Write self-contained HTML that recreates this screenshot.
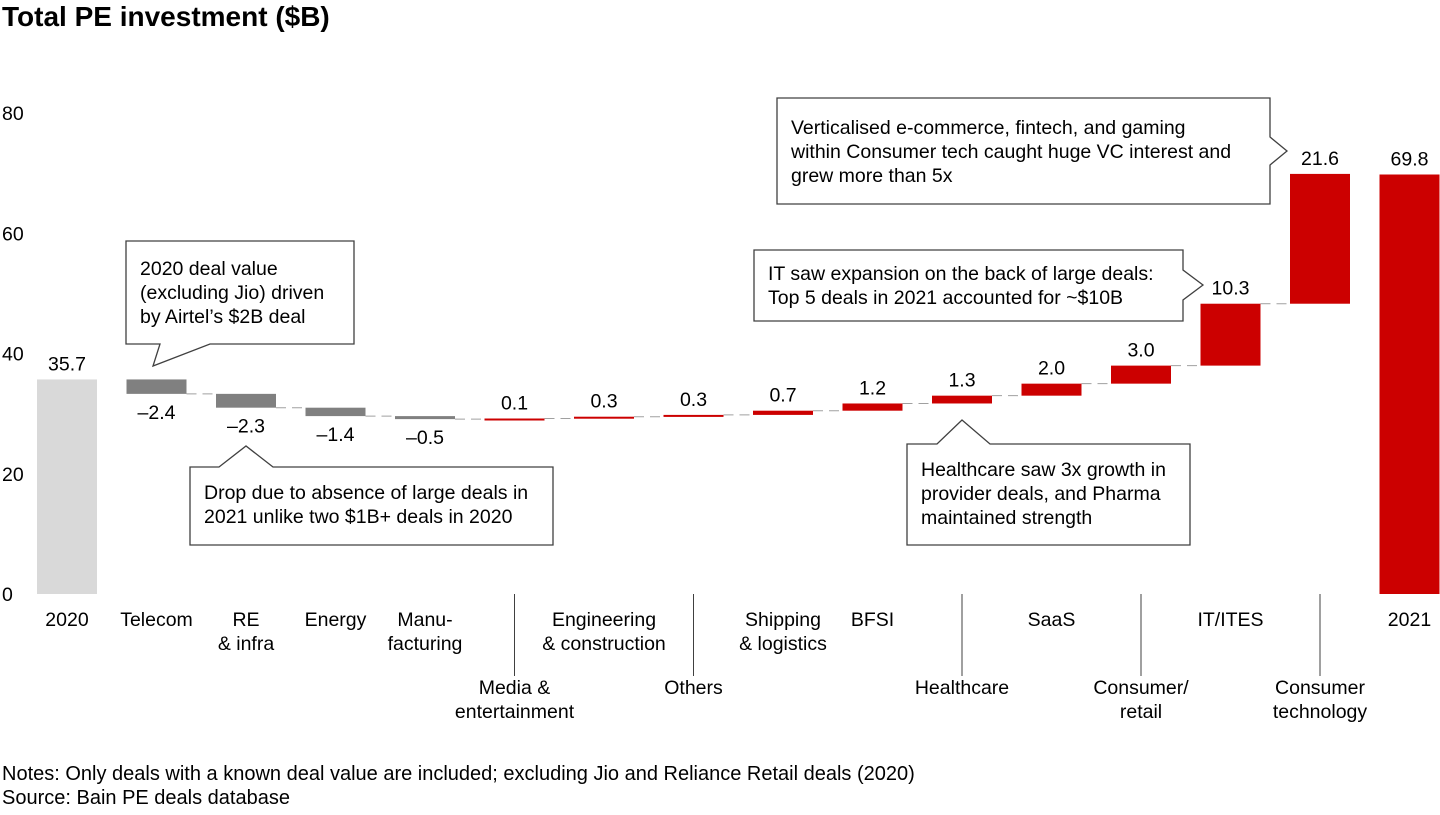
<!DOCTYPE html>
<html><head><meta charset="utf-8"><style>
body{margin:0;background:#fff;}
svg text{font-family:"Liberation Sans",Arial,sans-serif;fill:#000;}
</style></head><body>
<svg id="chart" width="1440" height="810" viewBox="0 0 1440 810" xmlns="http://www.w3.org/2000/svg">
<text x="2" y="26" font-size="28" font-weight="bold">Total PE investment ($B)</text>
<g id="yaxis"></g>
<g id="bars"></g>
<g id="xaxis"></g>
<g>
<path d="M126 241 H354 V344 H210 L153 366 L160 344 H126 Z" fill="#fff" stroke="#404040" stroke-width="1.3"/>
<text x="140" y="275" font-size="19.5">2020 deal value</text>
<text x="140" y="299" font-size="19.5">(excluding Jio) driven</text>
<text x="140" y="323" font-size="19.5">by Airtel’s $2B deal</text>
</g>
<g>
<path d="M190 467 H219 L246 446 L273 467 H553 V545 H190 Z" fill="#fff" stroke="#404040" stroke-width="1.3"/>
<text x="204" y="499" font-size="19.5">Drop due to absence of large deals in</text>
<text x="204" y="523" font-size="19.5">2021 unlike two $1B+ deals in 2020</text>
</g>
<g>
<path d="M907 444 H937 L962 420 L990 444 H1190 V545 H907 Z" fill="#fff" stroke="#404040" stroke-width="1.3"/>
<text x="921" y="476" font-size="19.5">Healthcare saw 3x growth in</text>
<text x="921" y="500" font-size="19.5">provider deals, and Pharma</text>
<text x="921" y="524" font-size="19.5">maintained strength</text>
</g>
<g>
<path d="M754 250 H1183 V270 L1203 285 L1183 300 V321 H754 Z" fill="#fff" stroke="#404040" stroke-width="1.3"/>
<text x="768" y="280" font-size="19.5">IT saw expansion on the back of large deals:</text>
<text x="768" y="304" font-size="19.5">Top 5 deals in 2021 accounted for ~$10B</text>
</g>
<g>
<path d="M777 98 H1270 V137 L1287 151 L1270 165 V204 H777 Z" fill="#fff" stroke="#404040" stroke-width="1.3"/>
<text x="791" y="134" font-size="19.5">Verticalised e-commerce, fintech, and gaming</text>
<text x="791" y="158" font-size="19.5">within Consumer tech caught huge VC interest and</text>
<text x="791" y="182" font-size="19.5">grew more than 5x</text>
</g>
<text x="2" y="780" font-size="20">Notes: Only deals with a known deal value are included; excluding Jio and Reliance Retail deals (2020)</text>
<text x="2" y="804" font-size="20">Source: Bain PE deals database</text>
</svg>
<script>
const categories = [["2020"],["Telecom"],["RE","& infra"],["Energy"],["Manu-","facturing"],["Media &","entertainment"],["Engineering","& construction"],["Others"],["Shipping","& logistics"],["BFSI"],["Healthcare"],["SaaS"],["Consumer/","retail"],["IT/ITES"],["Consumer","technology"],["2021"]];
const values = [35.7,-2.4,-2.3,-1.4,-0.5,0.1,0.3,0.3,0.7,1.2,1.3,2.0,3.0,10.3,21.6,69.8];
const valueLabels = ["35.7","–2.4","–2.3","–1.4","–0.5","0.1","0.3","0.3","0.7","1.2","1.3","2.0","3.0","10.3","21.6","69.8"];
const lowLabel = [false,false,false,false,false,true,false,true,false,false,true,false,true,false,true,false];
const yTicks = [0,20,40,60,80];

const NS="http://www.w3.org/2000/svg";
const y0=594, pxPer=6.01;
const yScale=v=>y0-v*pxPer;
const xCenter=i=>67+i*89.5;
const barW=60;
function mk(tag,attrs,parent){const e=document.createElementNS(NS,tag);for(const k in attrs)e.setAttribute(k,attrs[k]);parent.appendChild(e);return e;}
const yax=document.getElementById('yaxis'),bars=document.getElementById('bars'),xax=document.getElementById('xaxis');
yTicks.forEach(t=>{const e=mk('text',{x:2,y:yScale(t)+7,'font-size':19.5},yax);e.textContent=t;

});
let run=0;const n=values.length;
values.forEach((v,i)=>{
  let a,b,fill;
  if(i===0){a=0;b=v;run=v;fill='#d9d9d9';}
  else if(i===n-1){a=0;b=v;fill='#cc0000';}
  else{a=run;b=run+v;run=b;fill=v<0?'#808080':'#cc0000';}
  const top=yScale(Math.max(a,b)),bot=yScale(Math.min(a,b));
  const h=Math.max(bot-top,2);
  const r=mk('rect',{x:xCenter(i)-barW/2,y:top,width:barW,height:h,fill:fill},bars);
  
  
  const ly=v<0?top+h+25:top-9;
  const t=mk('text',{x:xCenter(i),y:ly,'font-size':19.5,'text-anchor':'middle'},bars);
  t.textContent=valueLabels[i];
  
  
  if(i>0&&i<n-2){const cy=yScale(run);
    const c=mk('line',{x1:xCenter(i)+barW/2,x2:xCenter(i+1)-barW/2,y1:cy,y2:cy,stroke:'#a0a0a0','stroke-width':1,'stroke-dasharray':'10 6'},bars);
    
    }
  const base=lowLabel[i]?694:626;
  if(lowLabel[i]){const l=mk('line',{x1:xCenter(i),x2:xCenter(i),y1:594,y2:676,stroke:'#404040','stroke-width':1},xax);
    
    }
  categories[i].forEach((s,k)=>{const t2=mk('text',{x:xCenter(i),y:base+k*24,'font-size':19.5,'text-anchor':'middle'},xax);t2.textContent=s;
    
    });
});
</script>
</body></html>
